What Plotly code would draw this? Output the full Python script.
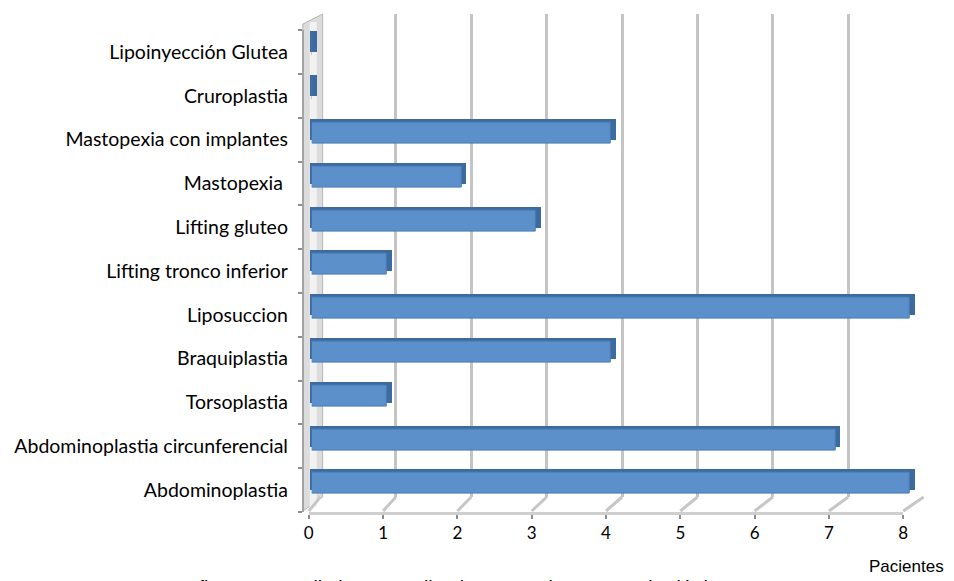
import plotly.graph_objects as go

# Procedures performed (bottom to top, as drawn on the category axis)
categorias = [
    "Abdominoplastia",
    "Abdominoplastia circunferencial",
    "Torsoplastia",
    "Braquiplastia",
    "Liposuccion",
    "Lifting tronco inferior",
    "Lifting gluteo",
    "Mastopexia ",
    "Mastopexia con implantes",
    "Cruroplastia",
    "Lipoinyección Glutea",
]
pacientes = [8, 7, 1, 4, 8, 1, 3, 2, 4, 0, 0]
ticks_x = [0, 1, 2, 3, 4, 5, 6, 7, 8]

W, H = 954, 581


def fx(px):
    return px / W


def fy(py):
    return 1 - py / H


# pixel geometry of the pseudo-3D box
FRONT_X0, FRONT_UNIT = 307.0, 75.1      # front floor edge (tick labels)
BACK_X0, BACK_UNIT = 318.8, 76.2        # back wall (gridlines)
FLOOR_FRONT_Y, FLOOR_BACK_Y = 511.0, 497.0
TOP_Y = 14.0
CAT_TOP, CAT_BOT = 30.1, 511.9          # category band extent
BAR_LIFT = 6.5                          # bars sit slightly behind the labels
BAR_X0, BAR_UNIT = 310.0, 75.6
DEPTH_DX, DEPTH_DY = 5.0, 3.5
XMAX = 8
DEPTH = 0.09                            # depth face extends a little left of zero

fig = go.Figure()

# empty traces so every subplot is created
fig.add_trace(go.Scatter(x=[], y=[], xaxis="x", yaxis="y", showlegend=False))
fig.add_trace(go.Scatter(x=[], y=[], xaxis="x2", yaxis="y2", showlegend=False))

# depth (side/top faces) of the 3D bars
fig.add_trace(go.Bar(
    x=[v + DEPTH for v in pacientes], y=categorias, base=-DEPTH,
    orientation="h", width=0.48,
    marker=dict(color="#3D6A9F", line=dict(width=0)),
    xaxis="x3", yaxis="y3", showlegend=False, hoverinfo="skip",
))
# front faces of the bars
fig.add_trace(go.Bar(
    x=pacientes, y=categorias, orientation="h", width=0.48,
    marker=dict(color="#5B90CB", line=dict(color="#4B7CB6", width=1)),
    xaxis="x4", yaxis="y4", showlegend=False,
    hovertemplate="%{y}: %{x}<extra></extra>",
))

cat_font = dict(family="Lato, Calibri, sans-serif", size=19.5, color="#000000")
num_font = dict(family="Lato, Calibri, sans-serif", size=17, color="#000000")

bar_dom_front = [BAR_X0, BAR_X0 + BAR_UNIT * XMAX]

fig.update_layout(
    width=W, height=581,
    margin=dict(l=0, r=0, t=0, b=0),
    paper_bgcolor="#FFFFFF",
    plot_bgcolor="rgba(0,0,0,0)",
    bargap=0,
    # back wall gridlines
    xaxis=dict(
        domain=[fx(BACK_X0), fx(BACK_X0 + BACK_UNIT * XMAX)], range=[0, XMAX],
        anchor="y", tickvals=ticks_x, showticklabels=False, ticks="",
        showgrid=True, gridcolor="#C4C4C4", gridwidth=3,
        zeroline=False, showline=False, fixedrange=True,
    ),
    yaxis=dict(
        domain=[fy(FLOOR_BACK_Y), fy(TOP_Y)], range=[0, 1], anchor="x",
        visible=False, fixedrange=True,
    ),
    # front value axis with tick labels
    xaxis2=dict(
        domain=[fx(FRONT_X0), fx(FRONT_X0 + FRONT_UNIT * XMAX)], range=[0, XMAX],
        anchor="y2", tickvals=ticks_x, ticktext=[str(t) for t in ticks_x],
        ticks="outside", ticklen=4, tickwidth=2, tickcolor="#8C8C8C",
        ticklabelstandoff=0,
        tickfont=num_font, showgrid=False, zeroline=False,
        showline=True, linecolor="#CFCFCF", linewidth=3, fixedrange=True,
    ),
    # category labels on the left wall
    yaxis2=dict(
        domain=[fy(CAT_BOT), fy(CAT_TOP)], range=[-0.5, len(categorias) - 0.5],
        anchor="free", position=fx(301),
        tickvals=list(range(len(categorias))), ticktext=categorias,
        ticks="", ticklabelstandoff=10, tickfont=cat_font,
        minor=dict(tickvals=[k - 0.5 for k in range(len(categorias) + 1)],
                   ticks="outside", ticklen=4, tickwidth=2, tickcolor="#8C8C8C",
                   showgrid=False),
        showgrid=False, zeroline=False,
        showline=True, linecolor="#A4A4A4", linewidth=2, fixedrange=True,
    ),
    # bar depth faces (range starts a little below zero so the side face shows)
    xaxis3=dict(
        domain=[fx(bar_dom_front[0] + DEPTH_DX - BAR_UNIT * DEPTH),
                fx(bar_dom_front[1] + DEPTH_DX)],
        range=[-DEPTH, XMAX], anchor="y3", visible=False, fixedrange=True,
    ),
    yaxis3=dict(
        domain=[fy(CAT_BOT - BAR_LIFT - DEPTH_DY), fy(CAT_TOP - BAR_LIFT - DEPTH_DY)],
        range=[-0.5, len(categorias) - 0.5], type="category",
        categoryorder="array", categoryarray=categorias,
        anchor="x3", visible=False, fixedrange=True,
    ),
    # bar front faces
    xaxis4=dict(
        domain=[fx(bar_dom_front[0]), fx(bar_dom_front[1])],
        range=[0, XMAX], anchor="y4", visible=False, fixedrange=True,
    ),
    yaxis4=dict(
        domain=[fy(CAT_BOT - BAR_LIFT), fy(CAT_TOP - BAR_LIFT)],
        range=[-0.5, len(categorias) - 0.5], type="category",
        categoryorder="array", categoryarray=categorias,
        anchor="x4", visible=False, fixedrange=True,
    ),
)

shapes = []
# left side wall
shapes.append(dict(
    type="path", xref="paper", yref="paper", layer="below",
    path=(f"M {fx(301)},{fy(FLOOR_FRONT_Y)} L {fx(301)},{fy(24)} "
          f"L {fx(321)},{fy(TOP_Y)} L {fx(321)},{fy(FLOOR_BACK_Y)} Z"),
    fillcolor="#DCDCDC", line=dict(color="#B5B5B5", width=1),
))
shapes.append(dict(
    type="rect", xref="paper", yref="paper", layer="below",
    x0=fx(308), x1=fx(315), y0=fy(FLOOR_FRONT_Y - 4), y1=fy(22),
    fillcolor="#F2F2F2", line=dict(width=0),
))
# floor: short receding lines from each front tick to the back gridline
for t in ticks_x:
    shapes.append(dict(
        type="line", xref="paper", yref="paper", layer="below",
        x0=fx(FRONT_X0 + FRONT_UNIT * t), y0=fy(FLOOR_FRONT_Y),
        x1=fx(BACK_X0 + BACK_UNIT * t), y1=fy(FLOOR_BACK_Y),
        line=dict(color="#C6C6C6", width=3),
    ))
fig.update_layout(shapes=shapes)

fig.add_annotation(
    text="Pacientes", xref="paper", yref="paper",
    x=fx(951), y=fy(566), xanchor="right", yanchor="middle", showarrow=False,
    font=dict(family="Liberation Sans, Arial, sans-serif", size=17, color="#000000"),
)
fig.add_annotation(
    text="Grafico 5. Procedimientos realizados en pacientes post bariátricos",
    xref="paper", yref="paper",
    x=fx(452), y=fy(574.5), xanchor="center", yanchor="top", showarrow=False,
    font=dict(family="Liberation Sans, Arial, sans-serif", size=19.5, color="#000000"),
)

fig.write_html("out.html")
